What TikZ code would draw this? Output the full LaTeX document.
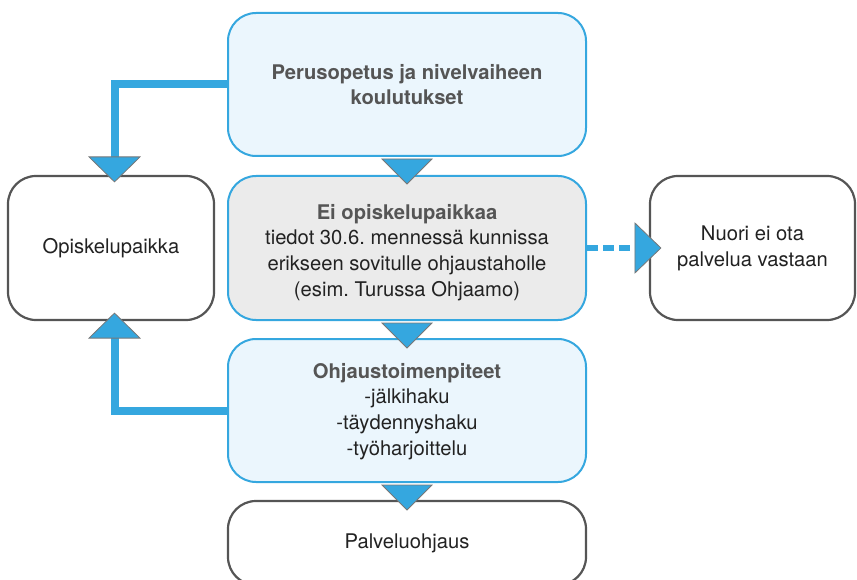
\documentclass[tikz,border=0pt]{standalone}
\usepackage{fontspec}
\setmainfont{TeX Gyre Heros}
\usetikzlibrary{calc}
\definecolor{cblue}{HTML}{35A7DF}
\definecolor{clight}{HTML}{EBF6FD}
\definecolor{cgray}{HTML}{EBEBEB}
\definecolor{cdark}{HTML}{555555}
\definecolor{ctext}{HTML}{222222}
\tikzset{
  box/.style={rounded corners=28pt, line width=2pt, align=center, inner sep=0pt,
    font=\fontsize{20.2}{25.7}\selectfont\frenchspacing, text=ctext},
  bluebox/.style={box, draw=cblue, fill=clight},
  graybox/.style={box, draw=cblue, fill=cgray},
  plainbox/.style={box, draw=cdark, fill=white, line width=2.2pt},
  tri/.style={fill=cblue, draw=cdark!80, line width=0.8pt, line join=miter},
  conn/.style={draw=cblue, line width=8pt},
  dconn/.style={draw=cblue, line width=6.5pt, dash pattern=on 11pt off 5pt},
}
\newcommand{\ttl}[1]{{\bfseries\color{cdark}#1}}
\begin{document}
\begin{tikzpicture}[x=1pt,y=-1pt]
\useasboundingbox (0,0) rectangle (857,580);
% boxes
\node[bluebox, minimum width=358pt, minimum height=143pt] (top) at (407,84.5)
  {\ttl{Perusopetus ja nivelvaiheen}\\\ttl{koulutukset}};
\node[graybox, minimum width=358pt, minimum height=144pt] (mid) at (407,248)
  {\rule{0pt}{24pt}\ttl{Ei opiskelupaikkaa}\\tiedot 30.6. mennessä kunnissa\\erikseen sovitulle ohjaustaholle\\(esim. Turussa Ohjaamo)};
\node[bluebox, minimum width=358pt, minimum height=143pt] (ohj) at (407,410.5)
  {\rule{0pt}{17pt}\ttl{Ohjaustoimenpiteet}\\-jälkihaku\\-täydennyshaku\\-työharjoittelu};
\node[plainbox, minimum width=358pt, minimum height=84pt] (pal) at (407,543)
  {Palveluohjaus};
\node[plainbox, minimum width=206pt, minimum height=144pt] (opi) at (111,248)
  {Opiskelupaikka};
\node[plainbox, minimum width=205pt, minimum height=144pt] (nuo) at (752.5,248)
  {Nuori ei ota\\palvelua vastaan};
% connectors left
\coordinate (c1) at ($(opi.north)+(3.5,-18)$);
\draw[conn] ($(top.west)+(0,-0.5)$) -| (c1);
\draw[tri] ($(c1)+(-25.5,0)$) -- ($(c1)+(25.5,0)$) -- ($(c1)+(0,25)$) -- cycle;
\coordinate (c2) at ($(opi.south)+(3.5,17)$);
\draw[conn] (ohj.west) -| (c2);
\draw[tri] ($(c2)+(-25.5,0)$) -- ($(c2)+(25.5,0)$) -- ($(c2)+(0,-25)$) -- cycle;
% dashed
\coordinate (c3) at ($(nuo.west)+(-14,0)$);
\draw[dconn] (mid.east) -- (c3);
\draw[tri] ($(c3)+(0,-25)$) -- ($(c3)+(0,25)$) -- ($(c3)+(26,0)$) -- cycle;
% down triangles
\foreach \a in {top,mid,ohj}{
  \draw[tri] ($(\a.south)+(-25,2)$) -- ($(\a.south)+(25,2)$) -- ($(\a.south)+(0,27)$) -- cycle;
}
\end{tikzpicture}
\end{document}
